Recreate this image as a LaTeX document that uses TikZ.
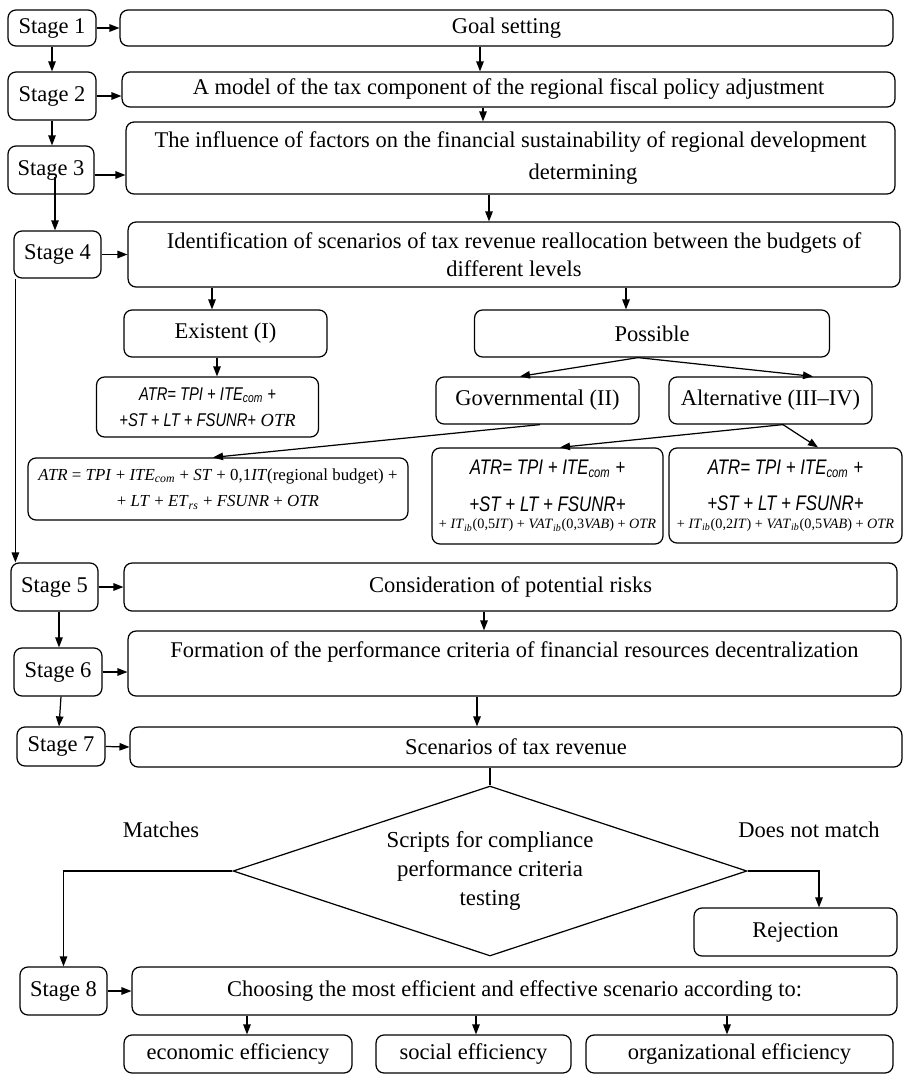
\documentclass[tikz,border=0pt]{standalone}
\usepackage{fontspec}
\setmainfont{Liberation Serif}
\newfontfamily\arialnarrow[FakeStretch=0.8]{Liberation Sans}
\usepackage{tikz}
\usetikzlibrary{shapes.geometric}
\usetikzlibrary{arrows.meta}
\tikzstyle{stage} = [rectangle, rounded corners=0.16cm, text centered, draw=black, line width=0.7pt, inner sep=1pt, font=\fontsize{12.8}{16}\selectfont]
\tikzstyle{block} = [stage, align=center]
\tikzstyle{formula} = [stage, align=center, font=\fontsize{9.6}{15}\selectfont]
\tikzstyle{test} = [diamond, aspect=3, draw=black, line width=0.7pt, inner sep=0pt, align=center, font=\fontsize{13}{16.5}\selectfont]
\tikzstyle{label} = [font=\fontsize{12.8}{16}\selectfont]
\tikzstyle{arrow} = [line width=0.7pt,-{Triangle[length=0.2cm,width=0.15cm]}]
\tikzstyle{link} = [line width=0.7pt]
\newcommand{\sansit}[1]{{\arialnarrow\itshape #1}}
\newcommand{\smallit}{\fontsize{8.1}{10}\selectfont}

\begin{document}
\begin{tikzpicture}[x=0.02cm, y=-0.02cm]

\useasboundingbox (0,0) rectangle (903,1075);

\node (stage1) [stage, minimum width=1.76cm, minimum height=0.72cm] at (52,28) {Stage 1};
\node (goal) [block, minimum width=15.46cm, minimum height=0.72cm] at (506.5,28) {Goal setting};
\node (stage2) [stage, minimum width=1.76cm, minimum height=0.96cm] at (52,96) {Stage 2};
\node (model) [block, minimum width=15.46cm, minimum height=0.70cm] at (508.5,89.5) {A model of the tax component of the regional fiscal policy adjustment};
\node (stage3) [stage, minimum width=1.72cm, minimum height=0.96cm] at (51,170) {Stage 3};
\node (infl) [block, minimum width=15.38cm, minimum height=1.44cm] at (510.5,158) {The influence of factors on the financial sustainability of regional development\\[2pt] \hspace*{2.9cm}determining};
\node (stage4) [stage, minimum width=1.74cm, minimum height=0.94cm] at (57.5,254.5) {Stage 4};
\node (ident) [block, minimum width=15.44cm, minimum height=1.30cm] at (514,254.5) {Identification of scenarios of tax revenue reallocation between the budgets of\\ different levels};

\node (exist) [block, minimum width=4.06cm, minimum height=0.94cm] at (225.5,333.5) {Existent (I)};
\node (poss) [block, minimum width=7.10cm, minimum height=0.94cm] at (652,333.5) {Possible};
\node (gov) [block, minimum width=4.06cm, minimum height=0.94cm] at (537.5,400.5) {Governmental (II)};
\node (alt) [block, minimum width=4.06cm, minimum height=0.94cm] at (770.5,400.5) {Alternative (III--IV)};

\node (fone) [formula, minimum width=4.44cm, minimum height=1.20cm, font=\fontsize{10.5}{15}\selectfont] at (207.5,407) {\sansit{ATR= TPI + ITE\textsubscript{com} +}\\ \sansit{+ST + LT + FSUNR+} \textit{OTR}};
\node (ftwo) [formula, minimum width=7.60cm, minimum height=1.24cm] at (218,489) {\textit{ATR} = \textit{TPI} + \textit{ITE}\textsubscript{\textit{com}} + \textit{ST} + 0,1\textit{IT}(regional budget) +\\ + \textit{LT} + \textit{ET}\textsubscript{\textit{rs}} + \textit{FSUNR} + \textit{OTR}};
\node (fthree) [formula, minimum width=4.62cm, minimum height=1.92cm, font=\fontsize{12}{15}\selectfont] at (547.5,496) {\sansit{ATR= TPI + ITE\textsubscript{com} +}\\[6pt] \sansit{+ST + LT + FSUNR+}\\[-5pt] {\smallit + \textit{IT}\textsubscript{\textit{ib}}(0,5\textit{IT}) + \textit{VAT}\textsubscript{\textit{ib}}(0,3\textit{VAB}) + \textit{OTR}}};
\node (ffour) [formula, minimum width=4.66cm, minimum height=1.90cm, font=\fontsize{12}{15}\selectfont] at (785.5,495.5) {\sansit{ATR= TPI + ITE\textsubscript{com} +}\\[6pt] \sansit{+ST + LT + FSUNR+}\\[-5pt] {\smallit + \textit{IT}\textsubscript{\textit{ib}}(0,2\textit{IT}) + \textit{VAT}\textsubscript{\textit{ib}}(0,5\textit{VAB}) + \textit{OTR}}};

\node (stage5) [stage, minimum width=1.74cm, minimum height=0.96cm] at (54.5,587) {Stage 5};
\node (consid) [block, minimum width=15.46cm, minimum height=0.96cm] at (510.5,587) {Consideration of potential risks};
\node (stage6) [stage, minimum width=1.76cm, minimum height=0.96cm] at (58,672) {Stage 6};
\node (form) [block, minimum width=15.46cm, minimum height=1.30cm] at (514.5,663.5) {Formation of the performance criteria of financial resources decentralization\\ ~};
\node (stage7) [stage, minimum width=1.76cm, minimum height=0.78cm] at (61,746.5) {Stage 7};
\node (scen) [block, minimum width=15.44cm, minimum height=0.80cm] at (516,747) {Scenarios of tax revenue};

\node (test) [test, minimum width=10.28cm, minimum height=3.40cm] at (490,871) {Scripts for compliance\\ performance criteria\\ testing};
\node (matches) [label] at (161,830) {Matches};
\node (nomatch) [label] at (809,830) {Does not match};
\node (reject) [block, minimum width=4.06cm, minimum height=0.96cm] at (795.5,932) {Rejection};

\node (stage8) [stage, minimum width=1.74cm, minimum height=0.96cm] at (63.5,991) {Stage 8};
\node (choose) [block, minimum width=15.30cm, minimum height=0.96cm] at (514.5,991) {Choosing the most efficient and effective scenario according to:};
\node (econ) [block, minimum width=4.56cm, minimum height=0.76cm] at (238,1054) {economic efficiency};
\node (social) [block, minimum width=3.90cm, minimum height=0.76cm] at (473.5,1054) {social efficiency};
\node (org) [block, minimum width=6.14cm, minimum height=0.76cm] at (739.5,1054) {organizational efficiency};

\draw [arrow] (stage1.east) -- (goal.west);
\draw [arrow] (stage1.south) -- (stage2.north);
\draw [arrow] ([xshift=-0.53cm]goal.south) -- ([xshift=-0.53cm]goal.south |- model.north);
\draw [arrow] (stage2.east) -- (stage2.east -| model.west);
\draw [arrow] ([xshift=-0.51cm]model.south) -- ([xshift=-0.51cm]model.south |- infl.north);
\draw [arrow] (stage2.south) -- (stage2.south |- stage3.north);
\draw [arrow] ([yshift=-0.1cm]stage3.east) -- ([yshift=-0.1cm]stage3.east -| infl.west);
\draw [arrow] ([xshift=-0.43cm]infl.south) -- ([xshift=-0.43cm]infl.south |- ident.north);
\draw [arrow] ([xshift=0.08cm,yshift=-0.14cm]stage3.center) -- ([xshift=0.08cm]stage3.center |- stage4.north);
\draw [arrow] (stage4.east) -- (stage4.east -| ident.west);

\draw [arrow] ([xshift=-0.27cm]exist.north |- ident.south) -- ([xshift=-0.27cm]exist.north);
\draw [arrow] ([xshift=-0.52cm]poss.north |- ident.south) -- ([xshift=-0.52cm]poss.north);
\draw [arrow] ([xshift=-0.17cm]exist.south) -- ([xshift=-0.17cm]exist.south |- fone.north);
\draw [arrow] ([xshift=-0.28cm]poss.south) -- ([xshift=-0.35cm]gov.north);
\draw [arrow] ([xshift=-0.28cm]poss.south) -- ([xshift=0.85cm]alt.north);
\draw [arrow] ([xshift=0.05cm]gov.south) -- ([xshift=-0.1cm]ftwo.north);
\draw [arrow] ([xshift=0.25cm]alt.south) -- ([xshift=0.25cm]fthree.north);
\draw [arrow] ([xshift=0.25cm]alt.south) -- ([xshift=0.65cm]ffour.north);

\draw [arrow] ([xshift=0.04cm]stage4.south west) -- ([xshift=0.04cm]stage4.south west |- stage5.north);
\draw [arrow] (stage5.east) -- (consid.west);
\draw [arrow] ([xshift=-0.53cm]consid.south) -- ([xshift=-0.53cm]consid.south |- form.north);
\draw [arrow] ([xshift=0.09cm]stage5.south) -- ([xshift=0.09cm]stage5.south |- stage6.north);
\draw [arrow] (stage6.east) -- (stage6.east -| form.west);
\draw [arrow] ([xshift=0.06cm]stage6.south) -- ([xshift=-0.04cm]stage7.north);
\draw [arrow] ([xshift=-0.75cm]form.south) -- ([xshift=-0.75cm]form.south |- scen.north);
\draw [arrow] (stage7.east) -- (scen.west);

\draw [link] (test.north |- scen.south) -- (test.north);
\draw [arrow] (test.west) -| (stage8.north);
\draw [arrow] (test.east) -| ([xshift=0.47cm]reject.north);
\draw [arrow] (stage8.east) -- (choose.west);
\draw [arrow] ([xshift=0.18cm]econ.north |- choose.south) -- ([xshift=0.18cm]econ.north);
\draw [arrow] ([xshift=0.05cm]social.north |- choose.south) -- ([xshift=0.05cm]social.north);
\draw [arrow] ([xshift=-0.25cm]org.north |- choose.south) -- ([xshift=-0.25cm]org.north);

\end{tikzpicture}
\end{document}
